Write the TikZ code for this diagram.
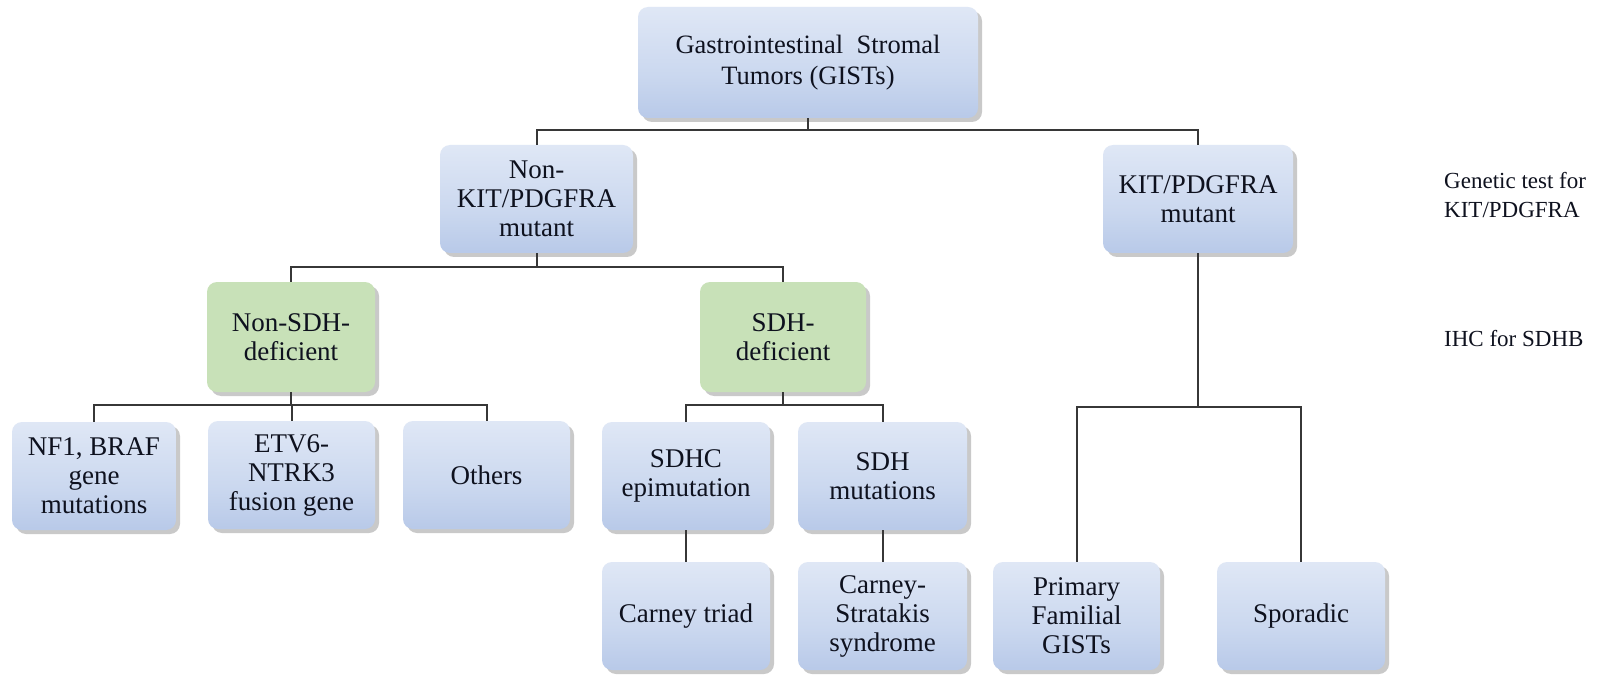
\documentclass[tikz,border=0pt]{standalone}
\usepackage{fontspec}
\setmainfont{Liberation Serif}
\usetikzlibrary{shadows}
\definecolor{btop}{RGB}{240,244,251}
\definecolor{bmid}{RGB}{203,216,239}
\definecolor{bdark}{RGB}{168,189,227}
\definecolor{bbot}{RGB}{190,205,234}
\definecolor{gfill}{RGB}{200,225,184}
\definecolor{lcol}{RGB}{55,55,55}
\definecolor{tcol}{RGB}{14,17,30}
\pgfdeclareverticalshading{boxshade}{100bp}{color(0bp)=(bbot); color(8bp)=(bdark); color(45bp)=(bmid); color(100bp)=(btop)}
\tikzset{
  base/.style={rounded corners=10pt, align=center, text=tcol,
    font=\fontsize{27}{29}\selectfont, inner sep=2pt,
    drop shadow={shadow xshift=4pt, shadow yshift=-4pt, opacity=0.35, fill=black!60}},
  bluebox/.style={base, shading=boxshade, draw=none},
  greenbox/.style={base, fill=gfill, draw=none},
  conn/.style={draw=lcol, line width=2pt},
  sidetext/.style={anchor=base west, text=tcol, font=\fontsize{23}{27}\selectfont, inner sep=0pt}
}
\begin{document}
\begin{tikzpicture}[x=1pt, y=-1pt]
\useasboundingbox (0,0) rectangle (1624,676);
\fill[white] (0,0) rectangle (1624,676);
% nodes
\node[bluebox, minimum width=340pt, minimum height=111pt, font=\fontsize{26.5}{31}\selectfont] (root) at (808,62.5) {Gastrointestinal\ \ Stromal\\Tumors (GISTs)};
\node[bluebox, minimum width=193pt, minimum height=108pt] (nonkit) at (536.5,199) {Non-\\KIT/PDGFRA\\mutant};
\node[bluebox, minimum width=190pt, minimum height=108pt] (kit) at (1198,199) {KIT/PDGFRA\\mutant};
\node[greenbox, minimum width=168pt, minimum height=110pt] (nonsdh) at (291,337) {Non-SDH-\\deficient};
\node[greenbox, minimum width=166pt, minimum height=110pt] (sdh) at (783,337) {SDH-\\deficient};
\node[bluebox, minimum width=164pt, minimum height=108pt] (nf1) at (94,476) {NF1, BRAF\\gene\\mutations};
\node[bluebox, minimum width=167pt, minimum height=108pt] (etv6) at (291.5,475) {ETV6-\\NTRK3\\fusion gene};
\node[bluebox, minimum width=167pt, minimum height=108pt] (others) at (486.5,475) {Others};
\node[bluebox, minimum width=168pt, minimum height=108pt] (sdhc) at (686,476) {SDHC\\epimutation};
\node[bluebox, minimum width=169pt, minimum height=108pt] (sdhmut) at (882.5,476) {SDH\\mutations};
\node[bluebox, minimum width=168pt, minimum height=108pt] (triad) at (686,616) {Carney triad};
\node[bluebox, minimum width=169pt, minimum height=108pt] (stratakis) at (882.5,616) {Carney-\\Stratakis\\syndrome};
\node[bluebox, minimum width=167pt, minimum height=108pt] (pf) at (1076.5,616) {Primary\\Familial\\GISTs};
\node[bluebox, minimum width=168pt, minimum height=108pt] (spor) at (1301,616) {Sporadic};
% side texts
\node[sidetext] (gt1) at (1444,189) {Genetic test for};
\node[sidetext] (gt2) at (1444,218) {KIT/PDGFRA};
\node[sidetext] (ihc) at (1444,346) {IHC for SDHB};
% junctions
\coordinate (j1) at (root.south |- 0,130);
\coordinate (j2) at (nonkit.south |- 0,267);
\coordinate (j3) at (nonsdh.south |- 0,405);
\coordinate (j4) at (sdh.south |- 0,405);
\coordinate (j5) at (kit.south |- 0,407);
% connectors
\draw[conn] (root.south) -- (j1);
\draw[conn] (j1) -| (nonkit.north);
\draw[conn] (j1) -| (kit.north);
\draw[conn] (nonkit.south) -- (j2);
\draw[conn] (j2) -| (nonsdh.north);
\draw[conn] (j2) -| (sdh.north);
\draw[conn] (nonsdh.south) -- (j3);
\draw[conn] (j3) -| (nf1.north);
\draw[conn] (j3) -| (etv6.north);
\draw[conn] (j3) -| (others.north);
\draw[conn] (sdh.south) -- (j4);
\draw[conn] (j4) -| (sdhc.north);
\draw[conn] (j4) -| (sdhmut.north);
\draw[conn] (sdhc.south) -- (triad.north);
\draw[conn] (sdhmut.south) -- (stratakis.north);
\draw[conn] (kit.south) -- (j5);
\draw[conn] (j5) -| (pf.north);
\draw[conn] (j5) -| (spor.north);
\end{tikzpicture}
\end{document}
